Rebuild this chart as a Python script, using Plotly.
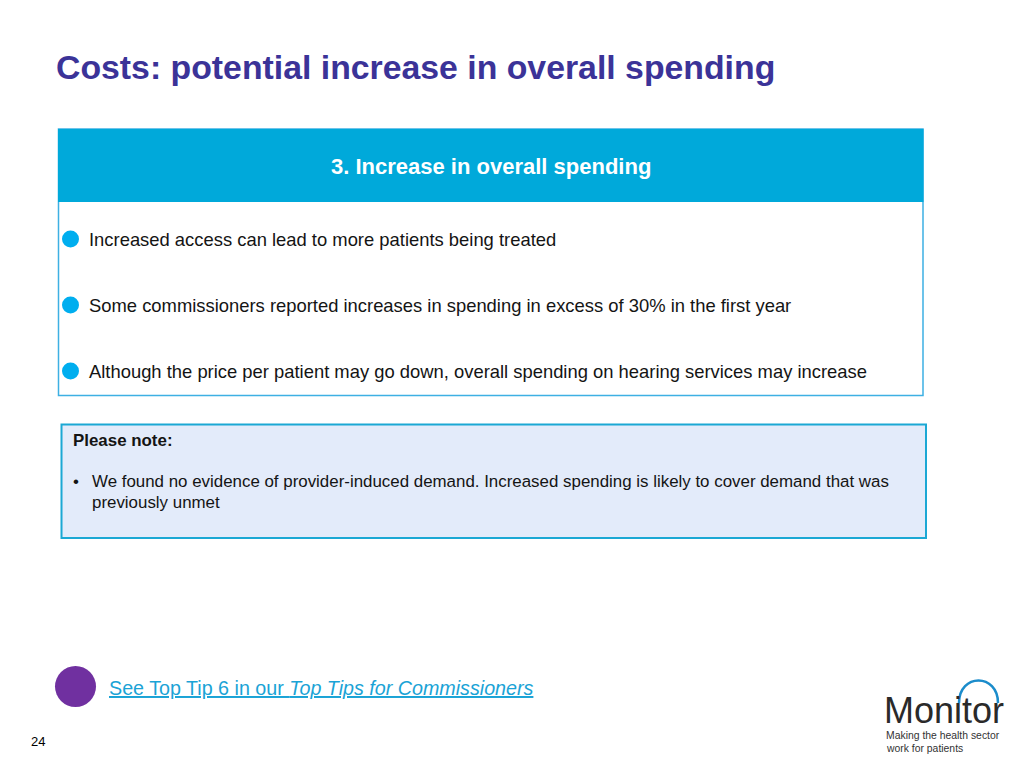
import plotly.graph_objects as go

# ---- content ----
title_text = "Costs: potential increase in overall spending"
header_text = "3. Increase in overall spending"
bullet_points = [
    "Increased access can lead to more patients being treated",
    "Some commissioners reported increases in spending in excess of 30% in the first year",
    "Although the price per patient may go down, overall spending on hearing services may increase",
]
note_title = "Please note:"
note_lines = [
    "We found no evidence of provider-induced demand. Increased spending is likely to cover demand that was",
    "previously unmet",
]
link_plain = "See Top Tip 6 in our "
link_italic = "Top Tips for Commissioners"
page_number = "24"
logo_word = "Monitor"
logo_tagline = ["Making the health sector", "work for patients"]

# ---- styling / layout ----
W, H = 1024, 769
PAD = 8  # default page body margin
FONT = "Liberation Sans, Arial, Helvetica, sans-serif"
TITLE_COLOR = "#3B3398"
BLUE = "#00A9DA"
BULLET_BLUE = "#00AEEF"
TEXT = "#141414"

fig = go.Figure()
shapes = []
ann = []

def text(x, y, s, size, color=TEXT, xanchor="left", yanchor="middle", family=FONT):
    ann.append(dict(x=x, y=y, xref="x", yref="y", text=s, showarrow=False,
                    xanchor=xanchor, yanchor=yanchor,
                    font=dict(size=size, color=color, family=family)))

# Title
text(54, 67, "<b>" + title_text + "</b>", 33.8, TITLE_COLOR)

# Main box with header
shapes.append(dict(type="rect", x0=58.5, x1=923, y0=129, y1=395.5,
                   line=dict(color="#3DB0E3", width=1.5), fillcolor="white"))
shapes.append(dict(type="rect", x0=58, x1=923.5, y0=129, y1=202,
                   line=dict(width=0), fillcolor=BLUE))
text(491, 166, "<b>" + header_text + "</b>", 22, "white", xanchor="center")

bullet_y = [239, 305, 371]
for yy, s in zip(bullet_y, bullet_points):
    shapes.append(dict(type="circle", x0=62, x1=79, y0=yy - 8.5, y1=yy + 8.5,
                       line=dict(width=0), fillcolor=BULLET_BLUE))
    text(87, yy, s, 18.4)

# Note box
shapes.append(dict(type="rect", x0=61.5, x1=926, y0=424.5, y1=538,
                   line=dict(color="#1BA8D4", width=2), fillcolor="#E3EBFA"))
text(71, 440, "<b>" + note_title + "</b>", 16.9)
text(71, 481, "•", 16.9)
text(90, 481, note_lines[0], 16.9)
text(90, 502, note_lines[1], 16.9)

# Link row
shapes.append(dict(type="circle", x0=55, x1=96, y0=666, y1=707,
                   line=dict(width=0), fillcolor="#7030A0"))
text(107, 688, "<u>" + link_plain + "<i>" + link_italic + "</i></u>", 19.7, "#1AA3D6")

# Page number
text(29, 741, page_number, 13, "#000000")

# Logo
text(882, 710, logo_word, 36, "#2A2A2A")
shapes.append(dict(type="path", path="M 959 703 C 959 673, 998 673, 998 703",
                   line=dict(color="#1B8CCB", width=2.5)))
text(884, 735, logo_tagline[0], 10.4, "#333333")
text(884, 748, logo_tagline[1], 10.4, "#333333")

fig.update_layout(
    width=W - 2 * PAD, height=H - 2 * PAD,
    margin=dict(l=0, r=0, t=0, b=0),
    paper_bgcolor="white", plot_bgcolor="white",
    xaxis=dict(range=[PAD, W - PAD], visible=False, fixedrange=True),
    yaxis=dict(range=[H - PAD, PAD], visible=False, fixedrange=True),
    shapes=shapes, annotations=ann, showlegend=False,
)

fig.write_html("out.html")
